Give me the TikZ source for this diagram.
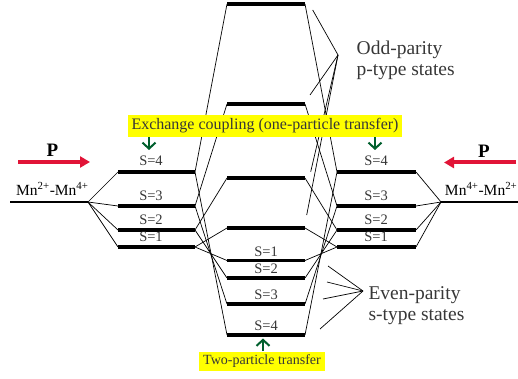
\documentclass[tikz,border=0pt]{standalone}
\usepackage{fontspec}
\setmainfont{Liberation Serif}
\usetikzlibrary{arrows.meta}

\definecolor{pred}{RGB}{225,20,55}
\definecolor{hlyellow}{RGB}{255,255,0}
\definecolor{tgreen}{RGB}{0,95,45}
\definecolor{txt}{RGB}{55,55,55}

\begin{document}
\begin{tikzpicture}[x=1pt,y=-1pt,
  level/.style={line width=3.6pt},
  baseline level/.style={line width=1.6pt},
  link/.style={line width=0.7pt},
  slabel/.style={font=\fontsize{14.5}{16}\selectfont, text=txt, anchor=base, inner sep=0pt},
  biglabel/.style={font=\fontsize{19.5}{21}\selectfont, text=txt, align=left, anchor=west, inner sep=0pt},
  mnlabel/.style={font=\fontsize{15.5}{17}\selectfont, text=black, inner sep=0pt},
  plabel/.style={font=\fontsize{19}{20}\selectfont\bfseries, anchor=base, inner sep=0pt},
  pushp/.style={line width=4pt, draw=pred, -{Triangle[length=10pt,width=11pt]}},
  hlbox/.style={fill=hlyellow, text=txt, inner sep=0pt},
  transfer/.style={draw=tgreen, line width=1.6pt, -{Straight Barb[length=6pt,width=13pt,line width=2pt]}}
]
\useasboundingbox (0,0) rectangle (518,379);

% ---- level end points ----
% side manifolds (left and right ions)
\foreach \n/\y in {4/172,3/206,2/230,1/247}{
  \coordinate (LA\n) at (118,\y);
  \coordinate (LB\n) at (195,\y);
  \coordinate (RA\n) at (337,\y);
  \coordinate (RB\n) at (416,\y);
}
% odd-parity (upper) centre levels
\foreach \n/\y in {4/4,3/104,2/178,1/228}{
  \coordinate (UA\n) at (227,\y);
  \coordinate (UB\n) at (305,\y);
}
% even-parity (lower) centre levels
\foreach \n/\y in {1/260.5,2/278,3/304,4/335}{
  \coordinate (DA\n) at (227,\y);
  \coordinate (DB\n) at (305,\y);
}
% unsplit pair levels
\coordinate (LBase0) at (10,202);
\coordinate (LBase1) at (88,202);
\coordinate (RBase0) at (441,202);
\coordinate (RBase1) at (518,202);

% ---- correlation lines ----
\foreach \n in {1,2,3,4}{
  \draw[link] (LBase1) -- (LA\n);
  \draw[link] (LB\n) -- (UA\n);
  \draw[link] (LB\n) -- (DA\n);
  \draw[link] (RA\n) -- (UB\n);
  \draw[link] (RA\n) -- (DB\n);
  \draw[link] (RBase0) -- (RB\n);
}

% ---- bracket lines to the parity labels ----
\coordinate (oddTip) at (338,55);
\coordinate (odd4) at (312.7,10);
\coordinate (odd3) at (310,95);
\coordinate (odd2) at (310.7,171.7);
\coordinate (odd1) at (306.7,215);
\foreach \n in {1,2,3,4} \draw[link] (oddTip) -- (odd\n);

\coordinate (evenTip) at (363,291);
\coordinate (even1) at (328,266);
\coordinate (even2) at (327,282);
\coordinate (even3) at (323,299);
\coordinate (even4) at (320,329);
\foreach \n in {1,2,3,4} \draw[link] (evenTip) -- (even\n);

% ---- levels ----
\draw[baseline level] (LBase0) -- (LBase1);
\draw[baseline level] (RBase0) -- (RBase1);
\foreach \n in {1,2,3,4}{
  \draw[level] (LA\n) -- (LB\n);
  \draw[level] (RA\n) -- (RB\n);
  \draw[level] (UA\n) -- (UB\n);
  \draw[level] (DA\n) -- (DB\n);
}

% ---- spin labels ----
\foreach \n/\y in {4/172,3/206,2/230,1/247}{
  \node[slabel] (ls\n) at (151,\y-6) {S=\n};
  \node[slabel] (rs\n) at (376,\y-6) {S=\n};
}
\foreach \n/\y in {1/260.5,2/278,3/304,4/335}{
  \node[slabel] (cs\n) at (266,\y-4.5) {S=\n};
}

% ---- parity labels ----
\node[biglabel] (oddtext) at (356.5,60) {Odd-parity\\p-type states};
\node[biglabel] (eventext) at (368.3,305.5) {Even-parity\\s-type states};

% ---- ion pairs and polarisation ----
\node[mnlabel, anchor=base west] (mnleft) at (16,195) {Mn\textsuperscript{2+}-Mn\textsuperscript{4+}};
\node[mnlabel, anchor=base east] (mnright) at (517.5,195) {Mn\textsuperscript{4+}-Mn\textsuperscript{2+}};
\node[plabel] (pleft) at (52.5,157) {P};
\node[plabel] (pright) at (484,158) {P};
\coordinate (pl0) at (18,162);
\coordinate (pl1) at (90,162);
\coordinate (pr0) at (516,162.5);
\coordinate (pr1) at (444,162.5);
\draw[pushp] (pl0) -- (pl1);
\draw[pushp] (pr0) -- (pr1);

% ---- transfer mechanisms ----
\node[hlbox, minimum width=274pt, minimum height=22pt,
      font=\fontsize{16}{18}\selectfont] (exch) at (265,126)
      {Exchange coupling (one-particle transfer)};
\node[hlbox, minimum width=126pt, minimum height=19pt,
      font=\fontsize{14}{16}\selectfont] (twop) at (262,361.5)
      {Two-particle transfer};

\coordinate (ga0) at (149,137.5);
\coordinate (ga1) at (149,150);
\coordinate (gb0) at (375,137.5);
\coordinate (gb1) at (375,150);
\coordinate (gc0) at (263,351);
\coordinate (gc1) at (263,338.5);
\draw[transfer] (ga0) -- (ga1);
\draw[transfer] (gb0) -- (gb1);
\draw[transfer] (gc0) -- (gc1);
\end{tikzpicture}
\end{document}
